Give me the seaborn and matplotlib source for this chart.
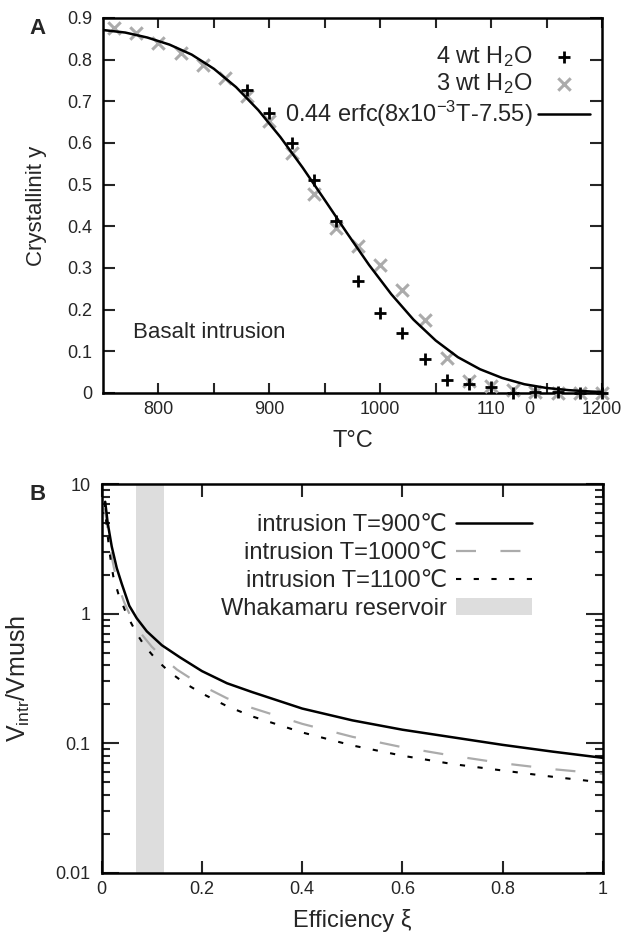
import numpy as np
import pandas as pd
import seaborn as sns
import matplotlib.pyplot as plt
from matplotlib.ticker import FixedLocator, LogLocator, NullLocator, FuncFormatter
from matplotlib.patches import Patch

sns.set_style('ticks')
plt.rcParams['font.family'] = ['Liberation Sans', 'DejaVu Sans']
plt.rcParams['mathtext.default'] = 'regular'

# panel A: crystallinity vs temperature
T_4wt = [880, 900, 920, 940, 960, 980, 1000, 1020, 1040, 1060, 1080, 1100,
         1120, 1140, 1160, 1180, 1200]
y_4wt = [0.728, 0.672, 0.600, 0.512, 0.412, 0.268, 0.192, 0.143, 0.082, 0.031,
         0.022, 0.015, 0.0, 0.003, 0.003, 0.0, 0.0]
T_3wt = [760, 780, 800, 820, 840, 860, 880, 900, 920, 940, 960, 980, 1000,
         1020, 1040, 1060, 1080, 1100, 1120, 1140, 1160, 1180, 1200]
y_3wt = [0.877, 0.864, 0.841, 0.817, 0.788, 0.756, 0.712, 0.652, 0.576, 0.477,
         0.396, 0.352, 0.306, 0.248, 0.176, 0.084, 0.028, 0.016, 0.006, 0.002,
         0.0, 0.0, 0.0]
T_fit = [750, 770, 790, 810, 830, 850, 870, 890, 910, 930, 950, 970, 990,
         1010, 1030, 1050, 1070, 1090, 1110, 1130, 1150, 1170, 1190, 1200]
y_fit = [0.871, 0.865, 0.853, 0.836, 0.812, 0.778, 0.734, 0.679, 0.614, 0.541,
         0.463, 0.384, 0.307, 0.237, 0.176, 0.126, 0.086, 0.057, 0.036, 0.021,
         0.012, 0.0068, 0.0035, 0.0025]
T_ticks = [800, 900, 1000, 1100, 1200]
T_ticklabels = ['800', '900', '1000', '110', '1200']

# panel B: volume ratio vs efficiency
xi_900 = [0.007, 0.012, 0.02, 0.03, 0.04, 0.055, 0.07, 0.09, 0.12, 0.156, 0.2,
          0.25, 0.3, 0.4, 0.5, 0.6, 0.7, 0.8, 0.9, 1.0]
v_900 = [7.3, 5.0, 3.3, 2.25, 1.7, 1.15, 0.92, 0.73, 0.57, 0.46, 0.36, 0.29,
         0.248, 0.185, 0.150, 0.127, 0.111, 0.097, 0.086, 0.077]
xi_1000 = [0.006, 0.011, 0.018, 0.025, 0.035, 0.045, 0.062, 0.08, 0.1, 0.124,
           0.15, 0.2, 0.25, 0.3, 0.4, 0.5, 0.6, 0.7, 0.8, 0.9, 1.0]
v_1000 = [6.5, 4.8, 3.0, 2.2, 1.57, 1.22, 0.875, 0.69, 0.555, 0.45, 0.37, 0.278,
          0.222, 0.187, 0.141, 0.112, 0.093, 0.080, 0.070, 0.063, 0.058]
xi_1100 = [0.006, 0.01, 0.017, 0.023, 0.033, 0.05, 0.07, 0.086, 0.11, 0.136,
           0.166, 0.2, 0.25, 0.3, 0.4, 0.5, 0.6, 0.7, 0.8, 0.9, 1.0]
v_1100 = [7.3, 4.6, 2.75, 1.95, 1.43, 0.98, 0.70, 0.56, 0.437, 0.352, 0.29,
          0.242, 0.193, 0.161, 0.121, 0.096, 0.080, 0.069, 0.0615, 0.055, 0.0497]
whakamaru = [0.069, 0.124]

grey = '#ababab'

fig = plt.figure(figsize=(6.25, 9.35), dpi=100)
axA = fig.add_axes([0.1648, 0.5797, 0.7984, 0.4011])
axB = fig.add_axes([0.1627, 0.0666, 0.8021, 0.4157])

# ---- A ----
sns.scatterplot(x=T_4wt, y=y_4wt, marker='+', color='black', s=80, linewidth=2,
                ax=axA, label='4 wt H$_2$O', clip_on=False, zorder=4)
sns.scatterplot(x=T_3wt, y=y_3wt, marker='x', color=grey, s=80, linewidth=2.2,
                ax=axA, label='3 wt H$_2$O', clip_on=False, zorder=3)
sns.lineplot(x=T_fit, y=y_fit, color='black', linewidth=1.8, ax=axA,
             label='0.44 erfc(8x10$^{-3}$T-7.55)', zorder=5)

axA.set_xlim(750, 1200)
axA.set_ylim(0, 0.9)
axA.xaxis.set_major_locator(FixedLocator(T_ticks))
axA.set_xticklabels(T_ticklabels)
axA.xaxis.set_minor_locator(FixedLocator([850, 950, 1050, 1150]))
axA.yaxis.set_major_locator(FixedLocator(np.arange(0, 0.95, 0.1)))
axA.yaxis.set_major_formatter(FuncFormatter(lambda v, p: f'{v:g}'))
axA.tick_params(which='both', direction='in', top=True, right=True,
                length=7.5, width=1.5, labelsize=13, pad=6)
axA.tick_params(axis='y', which='both', length=8.5, pad=8)
# stray "0" of the split 1100 label
axA.text(1134, -0.045, '0', fontsize=13, ha='center', va='center',
         transform=axA.get_xaxis_transform())
axA.set_xlabel('T°C', fontsize=17)
axA.set_ylabel('Crystallinit y', fontsize=16)
axA.xaxis.set_label_coords(0.5, -0.10)
axA.yaxis.set_label_coords(-0.112, 0.5)
axA.text(777, 0.144, 'Basalt intrusion', fontsize=16, va='center', ha='left')

h, l = axA.get_legend_handles_labels()
axA.legend(h, l, loc='upper right', bbox_to_anchor=(0.976, 0.93), frameon=False,
           markerfirst=False, fontsize=17, handlelength=2.2, handletextpad=0.25,
           labelspacing=0.1, borderpad=0, borderaxespad=0)

# ---- B ----
axB.axvspan(whakamaru[0], whakamaru[1], color='#dddddd', lw=0, zorder=0)
sns.lineplot(x=xi_900, y=v_900, color='black', linewidth=1.8, ax=axB, zorder=3)
sns.lineplot(x=xi_1000, y=v_1000, color=grey, linewidth=1.6, ax=axB,
             linestyle=(0, (9, 11)), zorder=2)
sns.lineplot(x=xi_1100, y=v_1100, color='black', linewidth=1.5, ax=axB,
             linestyle=(0, (2.5, 6)), zorder=2)
axB.set_yscale('log')
axB.set_xlim(0, 1)
axB.set_ylim(0.01, 10)
axB.xaxis.set_major_locator(FixedLocator([0, 0.2, 0.4, 0.6, 0.8, 1.0]))
axB.xaxis.set_minor_locator(NullLocator())
axB.xaxis.set_major_formatter(FuncFormatter(lambda v, p: f'{v:g}'))
axB.yaxis.set_major_locator(FixedLocator([0.01, 0.1, 1, 10]))
axB.yaxis.set_minor_locator(LogLocator(base=10, subs=range(2, 10)))
axB.yaxis.set_major_formatter(FuncFormatter(lambda v, p: f'{v:g}'))
axB.tick_params(which='both', direction='in', top=True, right=True, width=1.5,
                labelsize=13)
axB.tick_params(axis='x', which='major', length=9, pad=6)
axB.tick_params(axis='y', which='major', length=12, pad=8)
axB.tick_params(axis='y', which='minor', length=6)
axB.set_xlabel('Efficiency ξ', fontsize=17)
axB.set_ylabel('V$_{intr}$/Vmush', fontsize=18)
axB.xaxis.set_label_coords(0.5, -0.093)
axB.yaxis.set_label_coords(-0.139, 0.5)

hb = axB.get_lines()[:3] + [Patch(facecolor='#dddddd', edgecolor='none')]
lb = ['intrusion T=900℃', 'intrusion T=1000℃', 'intrusion T=1100℃',
      'Whakamaru reservoir']
axB.legend(hb, lb, loc='upper right', bbox_to_anchor=(0.858, 0.923),
           frameon=False, markerfirst=False, fontsize=17, handlelength=3.2,
           handletextpad=0.4, labelspacing=0.25, borderpad=0, borderaxespad=0)

for ax in (axA, axB):
    for s in ax.spines.values():
        s.set_linewidth(1.8)
        s.set_color('black')

fig.text(38 / 625, 1 - 28 / 935, 'A', fontsize=16, weight='bold',
         ha='center', va='center')
fig.text(38 / 625, 1 - 495 / 935, 'B', fontsize=16, weight='bold',
         ha='center', va='center')

fig.savefig('out.png', dpi=100)
